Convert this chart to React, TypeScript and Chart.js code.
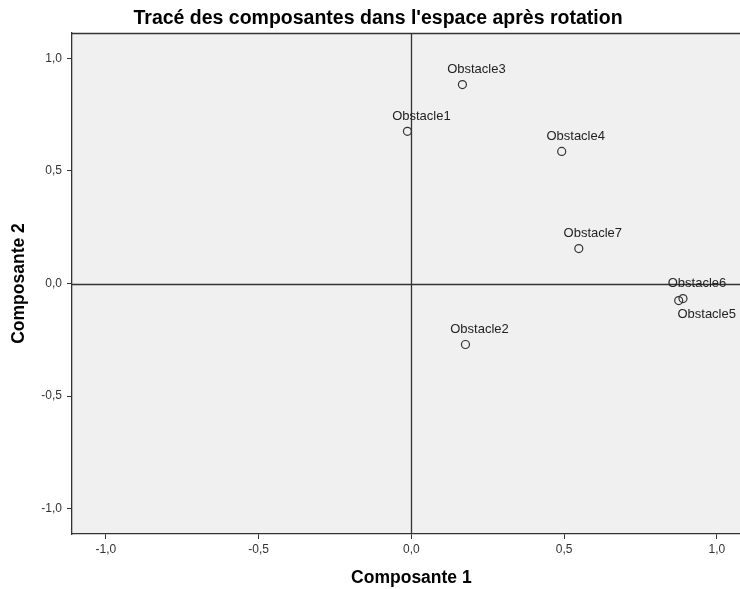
import React, { useEffect, useRef } from 'react';
import { Chart, registerables } from 'chart.js';

Chart.register(...registerables);

// ---- Data ----
const pointLabels = ['Obstacle1', 'Obstacle2', 'Obstacle3', 'Obstacle4', 'Obstacle5', 'Obstacle6', 'Obstacle7'];
const composante1 = [-0.013, 0.177, 0.167, 0.492, 0.875, 0.889, 0.548];
const composante2 = [0.676, -0.271, 0.884, 0.587, -0.076, -0.067, 0.155];
const tickValues = [-1.0, -0.5, 0.0, 0.5, 1.0];

const chartTitle = "Tracé des composantes dans l'espace après rotation";
const xTitle = 'Composante 1';
const yTitle = 'Composante 2';

// ---- Styling ----
const FONT = '"Liberation Sans", Arial, sans-serif';
const INK = '#333333';
const PLOT_BG = '#f0f0f0';
const defaultLabelOffset = [14, -15];
const labelOffsets: Record<string, number[]> = { Obstacle5: [28, 14] };

const fmt = (v: number) => v.toFixed(1).replace('.', ',');

const framePlugin = {
  id: 'frame',
  beforeDraw(chart: any) {
    const { ctx, chartArea: a } = chart;
    ctx.save();
    ctx.fillStyle = PLOT_BG;
    ctx.fillRect(a.left, a.top, a.right - a.left, a.bottom - a.top);
    ctx.restore();
  },
  beforeDatasetsDraw(chart: any) {
    const { ctx, chartArea: a, scales } = chart;
    ctx.save();
    ctx.strokeStyle = INK;
    ctx.lineWidth = 1.5;
    // top and right frame
    ctx.beginPath();
    ctx.moveTo(a.left, a.top + 0.5);
    ctx.lineTo(a.right, a.top + 0.5);
    ctx.moveTo(a.right - 0.5, a.top);
    ctx.lineTo(a.right - 0.5, a.bottom);
    ctx.stroke();
    // reference lines at 0
    const x0 = Math.round(scales.x.getPixelForValue(0)) + 0.5;
    const y0 = Math.round(scales.y.getPixelForValue(0)) + 0.5;
    ctx.lineWidth = 1.3;
    ctx.beginPath();
    ctx.moveTo(x0, a.top);
    ctx.lineTo(x0, a.bottom);
    ctx.moveTo(a.left, y0);
    ctx.lineTo(a.right, y0);
    ctx.stroke();
    ctx.restore();
  },
  afterDatasetsDraw(chart: any) {
    const { ctx } = chart;
    const meta = chart.getDatasetMeta(0);
    ctx.save();
    ctx.font = `13px ${FONT}`;
    ctx.fillStyle = '#222222';
    ctx.textAlign = 'center';
    ctx.textBaseline = 'middle';
    meta.data.forEach((el: any, i: number) => {
      const name = pointLabels[i];
      const off = labelOffsets[name] || defaultLabelOffset;
      ctx.fillText(name, el.x + off[0], el.y + off[1]);
    });
    ctx.restore();
  },
};

export default function App() {
  const ref = useRef<HTMLCanvasElement | null>(null);

  useEffect(() => {
    if (!ref.current) return;
    const data = composante1.map((x, i) => ({ x, y: composante2[i] }));
    const chart = new Chart(ref.current, {
      type: 'scatter',
      data: {
        datasets: [
          {
            data,
            pointStyle: 'circle',
            pointRadius: 4,
            pointBorderWidth: 1.2,
            pointBorderColor: INK,
            pointBackgroundColor: 'rgba(0,0,0,0)',
            clip: false as any,
          },
        ],
      },
      options: {
        animation: false,
        responsive: false,
        maintainAspectRatio: false,
        devicePixelRatio: 1,
        layout: { padding: 0 },
        events: [],
        plugins: {
          legend: { display: false },
          tooltip: { enabled: false },
          title: {
            display: true,
            text: chartTitle,
            color: '#000000',
            font: { family: FONT, size: 19.5, weight: 'bold' },
            padding: { top: 6.5, bottom: 3.1 },
          },
        },
        scales: {
          x: {
            type: 'linear',
            min: -1.111,
            max: 1.111,
            afterBuildTicks: (s: any) => {
              s.ticks = tickValues.map((v) => ({ value: v }));
            },
            afterFit: (s: any) => {
              s.height = 55;
            },
            ticks: {
              callback: (v: any) => fmt(Number(v)),
              color: INK,
              font: { family: FONT, size: 12 },
              padding: 3,
              maxRotation: 0,
              autoSkip: false,
            },
            grid: { drawOnChartArea: false, drawTicks: true, tickLength: 5, color: INK },
            border: { display: true, color: INK, width: 1.3 },
            title: {
              display: true,
              text: xTitle,
              color: '#000000',
              font: { family: FONT, size: 17.5, weight: 'bold' },
              padding: { top: 0, bottom: 0 },
            },
          },
          y: {
            type: 'linear',
            min: -1.113,
            max: 1.113,
            afterBuildTicks: (s: any) => {
              s.ticks = tickValues.map((v) => ({ value: v }));
            },
            afterFit: (s: any) => {
              s.width = 72;
            },
            ticks: {
              callback: (v: any) => fmt(Number(v)),
              color: INK,
              font: { family: FONT, size: 12 },
              padding: 5,
              autoSkip: false,
            },
            grid: { drawOnChartArea: false, drawTicks: true, tickLength: 5, color: INK },
            border: { display: true, color: INK, width: 1.3 },
            title: {
              display: true,
              text: yTitle,
              color: '#000000',
              font: { family: FONT, size: 17.5, weight: 'bold' },
              padding: { top: 9, bottom: 0 },
            },
          },
        },
      } as any,
      plugins: [framePlugin],
    });
    return () => chart.destroy();
  }, []);

  return (
    <canvas
      ref={ref}
      width={756}
      height={589}
      style={{ position: 'fixed', left: 0, top: 0, width: 756, height: 589, background: '#ffffff' }}
    />
  );
}
